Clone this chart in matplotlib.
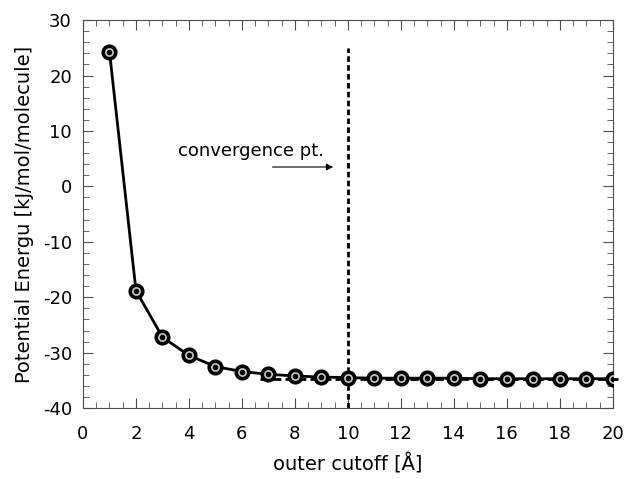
import matplotlib
matplotlib.use("Agg")
import matplotlib.pyplot as plt
from matplotlib.ticker import MultipleLocator

plt.rcParams['axes.unicode_minus'] = False

cutoff = [1, 2, 3, 4, 5, 6, 7, 8, 9, 10, 11, 12, 13, 14, 15, 16, 17, 18, 19, 20]
energy = [24.3, -18.8, -27.2, -30.5, -32.5, -33.4, -33.9, -34.2, -34.4, -34.5,
          -34.6, -34.6, -34.6, -34.6, -34.7, -34.7, -34.7, -34.7, -34.7, -34.7]
converged = -34.8
conv_x = 10

fig = plt.figure(figsize=(6.24, 4.79), dpi=100)
ax = fig.add_axes([0.133, 0.148, 0.849, 0.81])

ax.plot(cutoff, energy, '-', color='black', lw=2, zorder=3)
ax.plot(cutoff, energy, 'o', ms=9, mfc='0.8', mec='black', mew=2.6, zorder=4)
ax.plot(cutoff, energy, 'o', ms=3, color='black', zorder=5)

ax.plot([6.7, 20.2], [converged, converged], '--', color='black', lw=2,
        dashes=(3, 1.5), clip_on=False, zorder=2)
ax.plot([conv_x, conv_x], [-40, 24.9], '--', color='black', lw=2,
        dashes=(2, 1.2), zorder=2)

ax.annotate('', xy=(9.55, 3.5), xytext=(7.05, 3.5),
            arrowprops=dict(arrowstyle='-|>', color='black', lw=0.8,
                            mutation_scale=10))
ax.text(6.36, 6.3, 'convergence pt.', fontsize=13, ha='center', va='center')

ax.set_xlim(0, 20)
ax.set_ylim(-40, 30)
ax.xaxis.set_major_locator(MultipleLocator(2))
ax.xaxis.set_minor_locator(MultipleLocator(0.5))
ax.yaxis.set_major_locator(MultipleLocator(10))
ax.yaxis.set_minor_locator(MultipleLocator(2))
ax.tick_params(which='both', direction='in', top=True, right=True,
               color='0.3', labelsize=13)
ax.tick_params(which='major', length=7)
ax.tick_params(which='minor', length=4)
ax.tick_params(axis='x', which='major', pad=12)
ax.tick_params(axis='y', which='major', pad=8)
for s in ax.spines.values():
    s.set_color('0.3')

ax.set_xlabel('outer cutoff [Å]', fontsize=14, labelpad=8)
ax.set_ylabel('Potential Energu [kJ/mol/molecule]', fontsize=14, labelpad=6)

fig.savefig('out.png', dpi=100)
